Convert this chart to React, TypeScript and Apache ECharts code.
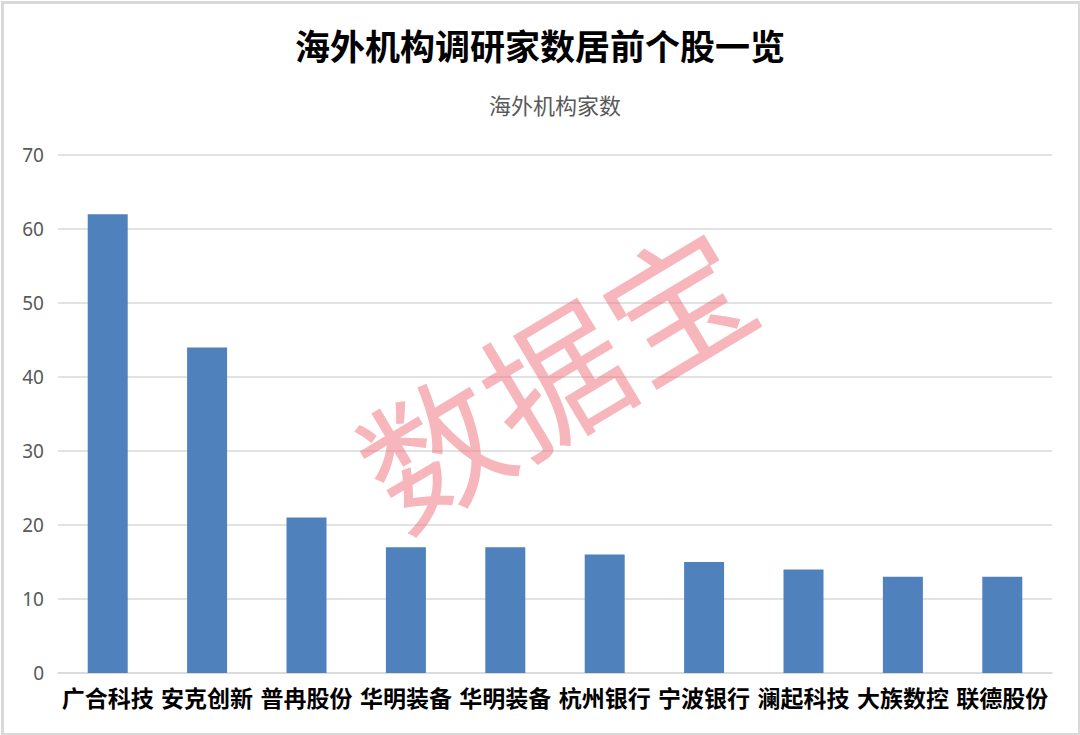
import React, { useEffect, useRef } from "react";
import * as echarts from "echarts";

const categories = ["广合科技", "安克创新", "普冉股份", "华明装备", "华明装备", "杭州银行", "宁波银行", "澜起科技", "大族数控", "联德股份"];
const values = [62, 44, 21, 17, 17, 16, 15, 14, 13, 13];
const titleText = "海外机构调研家数居前个股一览";
const seriesName = "海外机构家数";
const watermark = "数据宝";

export default function App() {
  const ref = useRef<HTMLDivElement>(null);
  useEffect(() => {
    if (!ref.current) return;
    const chart = echarts.init(ref.current, undefined, { renderer: "svg" });
    chart.setOption({
      animation: false,
      backgroundColor: "#ffffff",
      title: [
        {
          text: titleText,
          left: "center",
          top: 22,
          textStyle: { fontFamily: "Noto Sans CJK SC", fontSize: 35, fontWeight: "bold", color: "#000000" },
        },
        {
          text: seriesName,
          left: 484,
          top: 88,
          textStyle: { fontFamily: "Noto Sans CJK SC", fontSize: 22, fontWeight: "normal", color: "#595959" },
        },
      ],
      grid: { left: 58, right: 28, top: 155, bottom: 62, containLabel: false },
      xAxis: {
        type: "category",
        data: categories,
        axisLine: { lineStyle: { color: "#d9d9d9", width: 1.5 } },
        axisTick: { show: false },
        axisLabel: {
          fontFamily: "Noto Sans CJK SC",
          fontSize: 23,
          fontWeight: "bold",
          color: "#000000",
          margin: 12,
          interval: 0,
        },
      },
      yAxis: {
        type: "value",
        min: 0,
        max: 70,
        interval: 10,
        axisLine: { show: false },
        axisTick: { show: false },
        splitLine: { lineStyle: { color: "#d9d9d9", width: 1.5 } },
        axisLabel: { fontFamily: "Noto Sans", fontSize: 19, color: "#595959", margin: 14 },
      },
      series: [
        {
          name: seriesName,
          type: "bar",
          data: values,
          barWidth: 40,
          itemStyle: { color: "#4f81bd" },
        },
      ],
      graphic: [
        {
          type: "rect",
          left: 0,
          top: 0,
          shape: { x: 1.5, y: 1.5, width: 1077, height: 732 },
          style: { fill: "none", stroke: "#d9d9d9", lineWidth: 3 },
          silent: true,
        },
        {
          type: "text",
          x: 552,
          y: 372,
          rotation: (31 * Math.PI) / 180,
          style: {
            text: watermark,
            fontFamily: "Noto Sans CJK SC",
            fontSize: 142,
            fontWeight: "normal",
            fill: "rgba(240, 110, 120, 0.5)",
            align: "center",
            verticalAlign: "middle",
          },
          z: 100,
          silent: true,
        },
      ],
    });
    return () => chart.dispose();
  }, []);
  return <div ref={ref} style={{ position: "fixed", left: 0, top: 0, width: 1080, height: 735 }} />;
}
